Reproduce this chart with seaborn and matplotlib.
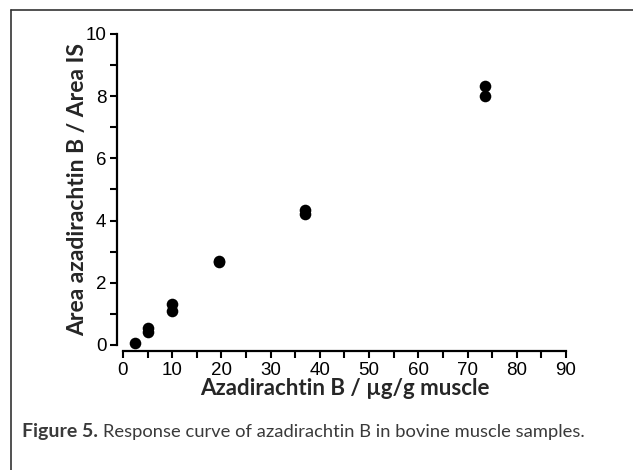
import pandas as pd
import seaborn as sns
from matplotlib import pyplot as plt
from matplotlib.lines import Line2D
from matplotlib.ticker import MultipleLocator

# data
conc = [2.5, 5, 5, 10, 10, 19.5, 19.5, 36.9, 36.9, 73.5, 73.5]
ratio = [0.06, 0.42, 0.54, 1.08, 1.31, 2.68, 2.70, 4.20, 4.33, 8.02, 8.33]
x_ticks = [0, 10, 20, 30, 40, 50, 60, 70, 80, 90]
y_ticks = [0, 2, 4, 6, 8, 10]

df = pd.DataFrame({'conc': conc, 'ratio': ratio})

sns.set_style('ticks')
plt.rcParams['font.family'] = ['Liberation Sans', 'DejaVu Sans']

fig = plt.figure(figsize=(6.33, 4.70), dpi=100)
ax = fig.add_axes([0.1943, 0.266, 0.6998, 0.6617])

sns.scatterplot(x='conc', y='ratio', data=df, color='black', s=70,
                linewidth=0, ax=ax, clip_on=False, zorder=3)

ax.set_xlim(0, 90)
ax.set_ylim(0, 10)
ax.set_xticks(x_ticks)
ax.set_yticks(y_ticks)
ax.xaxis.set_minor_locator(MultipleLocator(5))
ax.yaxis.set_minor_locator(MultipleLocator(1))
ax.tick_params(which='both', direction='out', width=1.5, length=5, colors='black',
               labelsize=13.5, pad=3)
for sp in ['left', 'bottom']:
    ax.spines[sp].set_linewidth(1.6)
    ax.spines[sp].set_color('black')
ax.spines['left'].set_position(('outward', 4))
ax.spines['bottom'].set_position(('outward', 4.5))
sns.despine(ax=ax)

ax.set_xlabel('Azadirachtin B / µg/g muscle', fontsize=16, fontweight='bold',
              family=['Lato', 'DejaVu Sans'], labelpad=-1)
ax.set_ylabel('Area azadirachtin B / Area IS', fontsize=16.5, fontweight='bold',
              family=['Lato', 'DejaVu Sans'], labelpad=-2)

# frame around the figure (top and left edges only)
fig.add_artist(Line2D([11/633, 1], [1 - 10/470, 1 - 10/470], color='#333333', lw=1.2))
fig.add_artist(Line2D([11/633, 11/633], [0, 1 - 10/470], color='#333333', lw=1.2))

# caption
fig.text(22/633, 1 - 432/470, 'Figure 5.', fontsize=14, fontweight='bold',
         color='#3a3a3a', family=['Lato', 'DejaVu Sans'], va='center')
fig.text(103/633, 1 - 432/470, 'Response curve of azadirachtin B in bovine muscle samples.',
         fontsize=13.2, color='#3a3a3a', family=['Lato', 'DejaVu Sans'], va='center')

fig.savefig('out.png', dpi=100)
